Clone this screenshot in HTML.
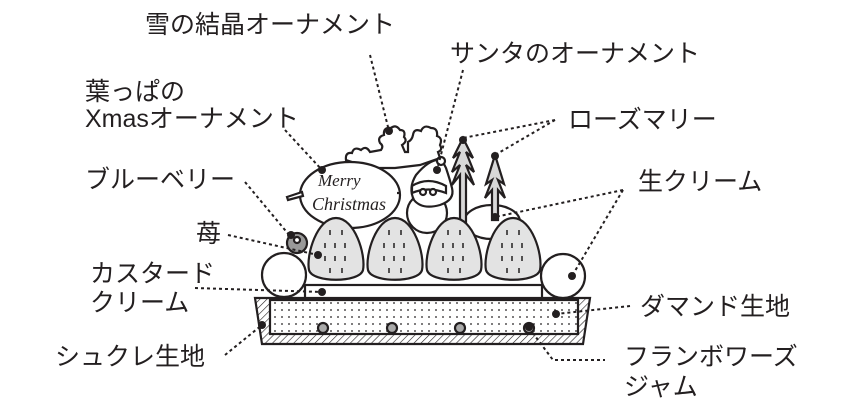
<!DOCTYPE html>
<html><head><meta charset="utf-8"><style>
html,body{margin:0;padding:0;background:#fff;}
svg{display:block}
text{font-family:"Liberation Sans","Noto Sans CJK JP",sans-serif;font-size:25px;fill:#231f20;}
.d{stroke:#231f20;stroke-width:2;stroke-dasharray:3 3;fill:none}
.o{stroke:#231f20;stroke-width:2.2}
</style></head><body>
<svg width="850" height="413" viewBox="0 0 850 413" xmlns="http://www.w3.org/2000/svg">
<defs>
<pattern id="dots" width="7" height="7" patternUnits="userSpaceOnUse"><rect width="7" height="7" fill="#fff"/><circle cx="2" cy="2" r="0.9" fill="#231f20"/></pattern>
<pattern id="hatch" width="5" height="5" patternUnits="userSpaceOnUse" patternTransform="rotate(45)"><rect width="5" height="5" fill="#fff"/><line x1="0" y1="0" x2="0" y2="5" stroke="#231f20" stroke-width="1.2"/></pattern>
</defs>
<!-- labels -->
<text x="145" y="33">雪の結晶オーナメント</text>
<text x="450" y="62">サンタのオーナメント</text>
<text x="85" y="100">葉っぱの</text>
<text x="85" y="127">Xmasオーナメント</text>
<text x="568" y="128">ローズマリー</text>
<text x="85" y="188">ブルーベリー</text>
<text x="638" y="190">生クリーム</text>
<text x="196" y="242">苺</text>
<text x="90" y="282">カスタード</text>
<text x="90" y="311">クリーム</text>
<text x="640" y="315">ダマンド生地</text>
<text x="55" y="365">シュクレ生地</text>
<text x="624" y="365">フランボワーズ</text>
<text x="624" y="395">ジャム</text>

<!-- tart shell -->
<polygon points="255,298 590,298 583,344 262,344" fill="url(#hatch)" class="o"/>
<rect x="270" y="300" width="308" height="34" fill="url(#dots)" class="o"/>
<g fill="#aaa" class="o" stroke-width="1.8">
<circle cx="323" cy="328" r="5"/><circle cx="392" cy="328" r="5"/><circle cx="460" cy="328" r="5"/><circle cx="529" cy="328" r="5"/>
</g>
<!-- custard -->
<rect x="305" y="285" width="237" height="13" fill="#fff" class="o"/>
<!-- spheres -->
<circle cx="284" cy="275" r="22" fill="#fff" class="o"/>
<circle cx="563" cy="276" r="22" fill="#fff" class="o"/>
<!-- snowflake / cloud ornament -->
<path d="M346,160 Q345,152 352,153 Q354,146 361,150 Q366,145 370,152 L381,150 Q384,146 380,143 Q377,137 384,135 Q383,127 391,128 Q396,124 400,130 Q406,130 404,137 Q408,141 402,145 L405,152 L408,152 L408,142 Q412,140 413,135 Q414,128 421,131 Q424,124 431,128 Q438,128 437,136 Q443,138 440,145 Q443,150 438,152 L440,158 L420,165 L395,168 L370,168 Z" fill="#fff" class="o" stroke-width="1.8"/>
<!-- cream blob -->
<ellipse cx="492" cy="222" rx="28" ry="17" fill="#fff" class="o"/>
<!-- trees -->
<g fill="#d8d8d8" class="o" stroke-width="1.6">
<path d="M460,225 L460,175 L452,185 L460,165 L452,172 L460,152 L453,158 L463,138 L473,158 L466,152 L474,172 L466,165 L474,185 L466,175 L466,225 Z"/>
<path d="M492,220 L492,190 L485,198 L492,180 L486,184 L495,155 L504,184 L498,180 L505,198 L498,190 L498,220 Z"/>
</g>
<!-- santa -->
<g fill="#fff" class="o">
<circle cx="427" cy="213" r="20"/>
<path d="M416,175 Q430,158 442,160 L446,168 Q450,180 452,188 Q455,200 440,205 Q422,210 414,200 Q408,188 416,175 Z"/>
<path d="M412,186 Q428,176 446,186 L446,193 Q428,186 412,193 Z"/>
<circle cx="441" cy="161" r="4"/>
<circle cx="423" cy="192" r="3"/><circle cx="433" cy="192" r="3"/>
</g>
<!-- leaf -->
<ellipse cx="350" cy="195" rx="50" ry="33" fill="#fff" class="o"/>
<path d="M287,197 L302,192 L303,196 L288,200 Z" fill="#fff" class="o" stroke-width="1.6"/>
<line x1="397" y1="193" x2="400" y2="193" class="o"/>
<text x="318" y="186" style="font-family:'Liberation Serif',serif;font-style:italic;font-size:17px">Merry</text>
<text x="312" y="210" style="font-family:'Liberation Serif',serif;font-style:italic;font-size:18px">Christmas</text>
<!-- strawberries -->
<g fill="#e3e3e3" class="o">
<path d="M336,218 C355,218 366,255 363,270 C360,283 312,283 309,270 C306,255 317,218 336,218 Z"/>
<path d="M395,218 C414,218 425,255 422,270 C419,283 371,283 368,270 C365,255 376,218 395,218 Z"/>
<path d="M454,218 C473,218 484,255 481,270 C478,283 430,283 427,270 C424,255 435,218 454,218 Z"/>
<path d="M513,218 C532,218 543,255 540,270 C537,283 489,283 486,270 C483,255 494,218 513,218 Z"/>
</g>
<g stroke="#231f20" stroke-width="1.5">
<path d="M330,230v5M342,230v5M325,243v5M335,243v5M345,243v5M325,256v5M335,256v5M345,256v5M330,268v5M342,268v5"/>
<path d="M389,230v5M401,230v5M384,243v5M394,243v5M404,243v5M384,256v5M394,256v5M404,256v5M389,268v5M401,268v5"/>
<path d="M448,230v5M460,230v5M443,243v5M453,243v5M463,243v5M443,256v5M453,256v5M463,256v5M448,268v5M460,268v5"/>
<path d="M507,230v5M519,230v5M502,243v5M512,243v5M522,243v5M502,256v5M512,256v5M522,256v5M507,268v5M519,268v5"/>
</g>
<!-- blueberry -->
<circle cx="297" cy="243" r="10" fill="#999" class="o"/>
<circle cx="297" cy="240" r="3" fill="#fff" class="o" stroke-width="1.4"/>

<!-- leader lines -->
<path class="d" d="M370,55 L389,131"/>
<path class="d" d="M463,70 L437,170"/>
<path class="d" d="M285,130 L322,170"/>
<path class="d" d="M555,120 L463,138 M555,120 L495,155"/>
<path class="d" d="M245,182 L290,236"/>
<path class="d" d="M623,190 L495,217 M623,190 L572,276"/>
<path class="d" d="M228,235 L318,255"/>
<path class="d" d="M195,288 L322,292"/>
<path class="d" d="M630,306 L556,314"/>
<path class="d" d="M225,355 L262,325"/>
<path class="d" d="M529,328 L553,360 L605,360"/>
<g fill="#231f20">
<circle cx="389" cy="131" r="4"/><circle cx="437" cy="170" r="4"/><circle cx="322" cy="170" r="4"/>
<circle cx="463" cy="140" r="4"/><circle cx="495" cy="156" r="4"/><circle cx="291" cy="235" r="4"/>
<circle cx="495" cy="217" r="4"/><circle cx="572" cy="276" r="4"/><circle cx="318" cy="255" r="4"/>
<circle cx="322" cy="292" r="4"/><circle cx="556" cy="314" r="4"/><circle cx="262" cy="325" r="4"/>
<circle cx="529" cy="327" r="4"/>
</g>
</svg>
</body></html>
